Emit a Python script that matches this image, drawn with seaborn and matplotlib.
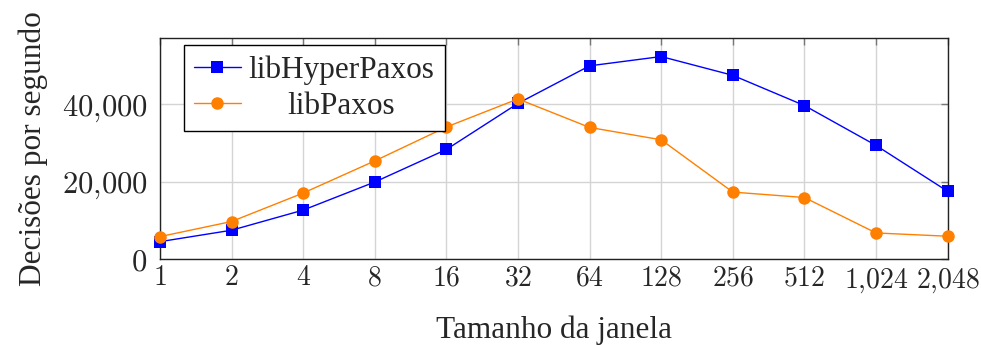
import numpy as np
import matplotlib
matplotlib.use("Agg")
import matplotlib.pyplot as plt
import seaborn as sns
import pandas as pd

janela = [1, 2, 4, 8, 16, 32, 64, 128, 256, 512, 1024, 2048]
hyperpaxos = [4500, 7450, 12650, 19900, 28300, 40200, 49900, 52300, 47450, 39650, 29350, 17500]
paxos = [5800, 9700, 17050, 25350, 34100, 41350, 34000, 30800, 17300, 15900, 6750, 5900]
y_ticks = [0, 20000, 40000]

sns.set_style("white")
plt.rcParams['font.family'] = ['Liberation Serif', 'DejaVu Serif']
plt.rcParams['mathtext.fontset'] = 'cm'
plt.rcParams['axes.unicode_minus'] = False


def tex_num(v):
    # pgfplots-style number with a comma separator, in Computer Modern
    return "$" + f"{v:,}".replace(",", "{,}") + "$"


df = pd.DataFrame({
    "janela": janela * 2,
    "valor": hyperpaxos + paxos,
    "serie": ["libHyperPaxos"] * len(janela) + ["libPaxos"] * len(janela),
})

fig = plt.figure(figsize=(9.81, 3.45), dpi=100)
ax = fig.add_axes([0.163, 0.249, 0.803, 0.641])

sns.lineplot(data=df[df.serie == "libHyperPaxos"], x="janela", y="valor", ax=ax,
             color=(0, 0, 1), marker="s", markersize=8.5, markeredgewidth=0,
             linewidth=1, label="libHyperPaxos", clip_on=False, zorder=3)
sns.lineplot(data=df[df.serie == "libPaxos"], x="janela", y="valor", ax=ax,
             color=(1, 0.5, 0), marker="o", markersize=9, markeredgewidth=0,
             linewidth=1, label="libPaxos", clip_on=False, zorder=3)

ax.set_xscale("log", base=2)
ax.set_xlim(1, 2048)
ax.set_ylim(0, 57100)
ax.set_xticks(janela)
ax.set_xticklabels([tex_num(v) for v in janela], fontsize=20)
ax.xaxis.set_minor_locator(matplotlib.ticker.NullLocator())
ax.set_yticks(y_ticks)
ax.set_yticklabels([tex_num(v) for v in y_ticks], fontsize=22)

ax.grid(True, color="#d4d4d4", linewidth=1)
ax.tick_params(direction="in", length=5, color="#777777", top=True, right=True,
               width=1)
ax.tick_params(axis="x", pad=5)
ax.tick_params(axis="y", pad=9)
for s in ax.spines.values():
    s.set_color("#222222")
    s.set_linewidth(1)

ax.set_xlabel("Tamanho da janela", fontsize=22.5, labelpad=15)
ax.set_ylabel("Decisões por segundo", fontsize=22.5, labelpad=10)

leg = ax.legend(loc="upper left", bbox_to_anchor=(0.03, 0.967), fontsize=22.5,
                frameon=True, fancybox=False, framealpha=1, edgecolor="black",
                handlelength=1.5, handletextpad=0.25, borderpad=0.33,
                labelspacing=0.21, borderaxespad=0)
leg.get_frame().set_linewidth(1)

# center the shorter label like the pgfplots legend
fig.canvas.draw()
t = leg.get_texts()
w0 = t[0].get_window_extent().width
w1 = t[1].get_window_extent().width
t[1].set_position(((w0 - w1) / 2, 0))

fig.savefig("out.png", dpi=100)
